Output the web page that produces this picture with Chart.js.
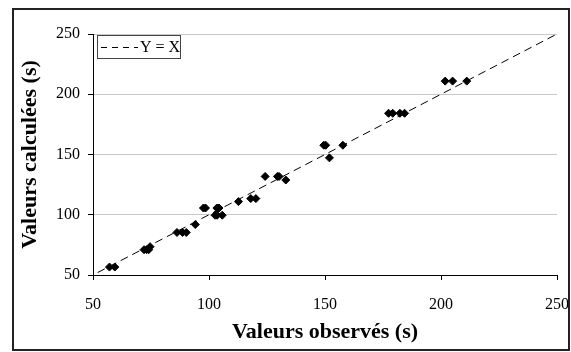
<!DOCTYPE html>
<html>
<head>
<meta charset="utf-8">
<script src="https://cdn.jsdelivr.net/npm/chart.js@4"></script>
<style>
  body { margin: 0; background: #fff; }
  #wrap { width: 571px; height: 352px; }
</style>
</head>
<body>
<div id="wrap"><canvas id="myChart" width="571" height="352"></canvas></div>
<script>
// valeurs
let observes = [57.1, 59.4, 72.0, 73.1, 74.0, 74.6, 86.2, 88.6, 90.2, 94.1, 97.6, 98.5, 102.6, 103.5, 105.7, 103.4, 104.3, 112.7, 118.0, 120.2, 124.2, 129.5, 130.2, 133.1, 149.5, 150.3, 151.9, 157.7, 177.4, 179.2, 182.3, 184.3, 201.8, 205.0, 211.1]
let calcules = [56.6, 56.6, 71.0, 71.0, 71.0, 73.5, 85.3, 85.3, 85.3, 91.9, 105.6, 105.6, 99.6, 99.6, 99.6, 105.6, 105.6, 110.9, 113.4, 113.4, 131.8, 131.8, 131.8, 128.8, 157.7, 157.7, 147.2, 157.7, 184.2, 184.2, 184.2, 184.2, 210.9, 210.9, 210.9]
let droiteX = [52, 250]
let ticks = [50, 100, 150, 200, 250]

let points = observes.map((v, i) => ({ x: v, y: calcules[i] }))
let droite = droiteX.map(v => ({ x: v, y: v }))

const serif = "'Liberation Serif', 'Times New Roman', serif"

// cadre extérieur + légende encadrée
const cadre = {
    id: 'cadre',
    beforeDraw(chart) {
        let c = chart.ctx
        c.save()
        c.fillStyle = '#fff'
        c.fillRect(0, 0, chart.width, chart.height)
        c.restore()
    },
    afterDraw(chart) {
        let c = chart.ctx
        let a = chart.chartArea
        c.save()
        c.strokeStyle = '#222'
        c.lineWidth = 2
        c.strokeRect(13, 9, 556, 341)

        // légende
        c.lineWidth = 1
        c.strokeStyle = '#444'
        c.strokeRect(a.left + 4.5, a.top + 1.5, 83, 23)
        c.strokeStyle = '#000'
        c.setLineDash([6, 5])
        c.beginPath()
        c.moveTo(a.left + 8, a.top + 13.5)
        c.lineTo(a.left + 45, a.top + 13.5)
        c.stroke()
        c.setLineDash([])
        c.fillStyle = '#000'
        c.font = '16px ' + serif
        c.textBaseline = 'middle'
        c.fillText('Y = X', a.left + 47, a.top + 14)
        c.restore()
    }
}

var ctx = document.getElementById('myChart');

var myChart = new Chart(ctx, {
    data: {
        datasets: [{
            type: 'scatter',
            label: 'valeurs',
            data: points,
            pointStyle: 'rectRot',
            pointRadius: 4,
            backgroundColor: '#000',
            borderColor: '#000',
            borderWidth: 1
        }, {
            type: 'line',
            label: 'Y = X',
            data: droite,
            borderColor: '#000',
            borderWidth: 1,
            borderDash: [8, 5],
            pointRadius: 0,
            fill: false
        }]
    },
    options: {
        responsive: false,
        animation: false,
        layout: { padding: { left: 15, top: 34, right: 14, bottom: 4 } },
        plugins: {
            legend: { display: false },
            tooltip: { enabled: false }
        },
        scales: {
            x: {
                type: 'linear',
                min: 50,
                max: 250,
                afterBuildTicks: (s) => { s.ticks = ticks.map(v => ({ value: v })) },
                afterFit: (s) => { s.height = 73; s.paddingLeft = 0; s.paddingRight = 0 },
                grid: { drawOnChartArea: false, tickColor: '#000', tickLength: 5 },
                border: { color: '#000', width: 1 },
                ticks: { color: '#000', padding: 15, font: { family: serif, size: 16 }, maxRotation: 0 },
                title: {
                    display: true,
                    text: 'Valeurs observés (s)',
                    color: '#000',
                    font: { family: serif, size: 22, weight: 'bold' },
                    padding: { top: 0, bottom: 2 }
                }
            },
            y: {
                type: 'linear',
                min: 50,
                max: 250,
                afterBuildTicks: (s) => { s.ticks = ticks.map(v => ({ value: v })) },
                afterFit: (s) => { s.width = 78; s.paddingTop = 0; s.paddingBottom = 0 },
                grid: { color: '#c8c8c8', tickColor: '#000', tickLength: 5 },
                border: { color: '#000', width: 1 },
                ticks: { color: '#000', padding: 8, font: { family: serif, size: 16 } },
                title: {
                    display: true,
                    text: 'Valeurs calculées (s)',
                    color: '#000',
                    font: { family: serif, size: 22, weight: 'bold' },
                    padding: { top: 2, bottom: 0 }
                }
            }
        }
    },
    plugins: [cadre]
});
</script>
</body>
</html>
